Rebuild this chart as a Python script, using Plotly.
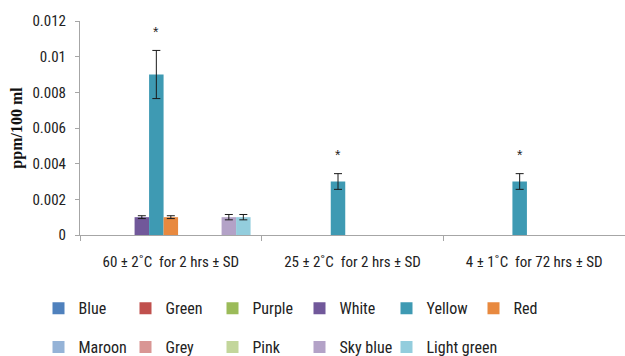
import plotly.graph_objects as go

categories = ["60 ± 2˚C  for 2 hrs ± SD", "25 ± 2˚C  for 2 hrs ± SD", "4 ± 1˚C  for 72 hrs ± SD"]
series_names = ["Blue", "Green", "Purple", "White", "Yellow", "Red",
                "Maroon", "Grey", "Pink", "Sky blue", "Light green"]

blue = [None, None, None]
green = [None, None, None]
purple = [None, None, None]
white = [0.001, None, None]
yellow = [0.009, 0.003, 0.003]
red = [0.001, None, None]
maroon = [None, None, None]
grey = [None, None, None]
pink = [None, None, None]
sky_blue = [0.001, None, None]
light_green = [0.001, None, None]

blue_sd = [None, None, None]
green_sd = [None, None, None]
purple_sd = [None, None, None]
white_sd = [0.00008, None, None]
yellow_sd = [0.00135, 0.00044, 0.00044]
red_sd = [0.00008, None, None]
maroon_sd = [None, None, None]
grey_sd = [None, None, None]
pink_sd = [None, None, None]
sky_blue_sd = [0.00015, None, None]
light_green_sd = [0.00015, None, None]

significance = ["*", "*", "*"]
significance_y = [0.0114, 0.0045, 0.0045]

values = [blue, green, purple, white, yellow, red, maroon, grey, pink, sky_blue, light_green]
sds = [blue_sd, green_sd, purple_sd, white_sd, yellow_sd, red_sd, maroon_sd, grey_sd, pink_sd, sky_blue_sd, light_green_sd]
colors = ["#4F81BD", "#C0504D", "#9BBB59", "#71589A", "#3E9AB3", "#E8893F",
          "#95B3D7", "#D99694", "#C3D69B", "#B3A2C7", "#93CDDD"]
legend_ids = ["legend"] * 6 + ["legend2"] * 3 + ["legend3", "legend4"]

FONT = "Liberation Sans Narrow, Arial Narrow, Roboto Condensed, sans-serif"

fig = go.Figure()
for name, v, sd, c, lg in zip(series_names, values, sds, colors, legend_ids):
    show_err = any(s for s in sd)
    fig.add_trace(go.Bar(
        name=name, x=categories, y=v,
        marker=dict(color=c, line=dict(width=0)),
        error_y=dict(type="data", array=sd, visible=show_err, color="#1a1a1a",
                     thickness=1, width=4),
        legend=lg,
        hoverinfo="skip",
    ))

for cat, s, yv in zip(categories, significance, significance_y):
    fig.add_annotation(x=cat, y=yv, text=s, showarrow=False, xshift=-14.5,
                       font=dict(family="Liberation Sans, sans-serif", size=14, color="#222"))

LEG_X0 = 0.0616
STEP = 87 / 625
leg_common = dict(orientation="h", xanchor="left", yanchor="middle",
                  xref="container", yref="container",
                  font=dict(family=FONT, size=16, color="#222"),
                  itemwidth=30, entrywidth=42, entrywidthmode="pixels",
                  bgcolor="rgba(0,0,0,0)", traceorder="normal")
leg_single = dict(leg_common, entrywidth=0)

fig.update_layout(
    width=625, height=356,
    margin=dict(l=80, r=0, t=21, b=121, autoexpand=False),
    paper_bgcolor="white", plot_bgcolor="white",
    barmode="group", bargap=0.122, bargroupgap=0,
    legend=dict(x=LEG_X0, y=0.134, **leg_common),
    legend2=dict(x=LEG_X0, y=0.025, **leg_common),
    legend3=dict(x=LEG_X0 + 3 * STEP, y=0.025, **leg_single),
    legend4=dict(x=LEG_X0 + 4 * STEP, y=0.025, **leg_single),
    xaxis=dict(type="category", showline=True, linecolor="#A6A6A6", linewidth=1,
               ticks="outside", tickson="boundaries", ticklen=5, tickcolor="#A6A6A6",
               ticklabelstandoff=13, automargin=False,
               tickfont=dict(family=FONT, size=15, color="#222"), showgrid=False),
    yaxis=dict(range=[0, 0.012], dtick=0.002, tickformat="", showline=True,
               linecolor="#A6A6A6", linewidth=1, ticks="outside", ticklen=4,
               tickcolor="#A6A6A6", showgrid=False, zeroline=False,
               ticklabelstandoff=6, automargin=False,
               tickfont=dict(family=FONT, size=15, color="#222"),
               title=dict(text="ppm/100 ml", standoff=5,
                          font=dict(family="Liberation Serif, Times New Roman, serif",
                                    size=16, color="#111", weight="bold"))),
    showlegend=True,
)

fig.write_html("out.html", config={"displayModeBar": False},
               post_script="document.body.style.margin='0';document.body.style.padding='0';")
